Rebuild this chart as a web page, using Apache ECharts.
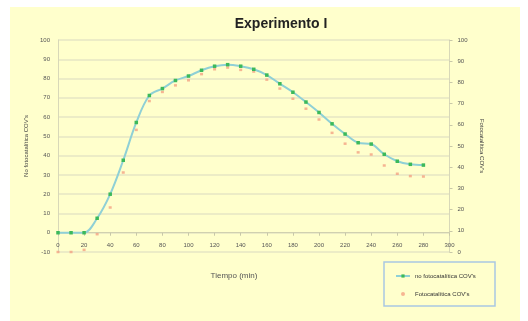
<!DOCTYPE html>
<html><head><meta charset="utf-8">
<script src="https://cdn.jsdelivr.net/npm/echarts@6/dist/echarts.min.js"></script>
<style>html,body{margin:0;padding:0;background:#fff}#c{width:528px;height:321px}</style>
</head><body><div id="c"></div>
<script>
const times = [0,10,20,30,40,50,60,70,80,90,100,110,120,130,140,150,160,170,180,190,200,210,220,230,240,250,260,270,280];
const noFotoValues = [0,0,0,7.5,20,37.6,57.2,71.2,74.8,79,81.3,84.3,86.4,87.2,86.4,84.8,81.8,77.3,72.9,67.8,62.4,56.5,51.2,46.7,46,40.7,37.1,35.5,35.1];
const fotoValues = [0,0,1,8.4,21,37.5,57.6,71.2,75.5,78.6,81,83.9,86.2,87,85.9,85.1,81.3,77.1,72.3,67.6,62.5,56.2,51.1,47,46,40.8,36.9,35.8,35.6];
const seriesNames = ["no fotocatalítica COV's", "Fotocatalítica COV's"];
const titleText = 'Experimento I';
const xName = 'Tiempo (min)';
const leftName = "No fotocatalítica COV's";
const rightName = "Fotocatalítica COV's";

const chart = echarts.init(document.getElementById('c'), null, {renderer:'canvas'});
const axisTxt = {fontSize:6, color:'#555', fontFamily:'Liberation Sans'};
const gridColor = '#e6e6c4';
chart.setOption({
  animation:false,
  backgroundColor:'#ffffff',
  graphic:[
    {type:'rect', z:-10, shape:{x:10,y:7,width:510,height:314}, style:{fill:'#ffffcc'}},
    {type:'text', x:234, y:276, style:{text:xName, fontSize:8, fill:'#555', align:'center', verticalAlign:'middle', fontFamily:'Liberation Sans'}},
    {type:'rect', shape:{x:384,y:262,width:111,height:44}, style:{fill:'#ffffcc', stroke:'#a9c8e2', lineWidth:1.5}, z:1}
  ],
  title:{text:titleText, left:276, top:12, textAlign:'center', textStyle:{fontSize:14, fontWeight:'bold', color:'#222', fontFamily:'Liberation Sans'}},
  legend:{orient:'vertical', left:390, top:268, itemGap:12, itemWidth:14, itemHeight:4, z:5,
    textStyle:{fontSize:6, color:'#333', fontFamily:'Liberation Sans'},
    data:[{name:seriesNames[0]},{name:seriesNames[1], icon:'circle', itemStyle:{color:'#f4a283'}}]},
  grid:{left:58, right:78.5, top:40, bottom:69},
  xAxis:[
    {type:'value', min:0, max:300, interval:20,
     axisLine:{onZero:true, lineStyle:{color:'#d0d0b0'}},
     axisTick:{show:true, lineStyle:{color:'#c8c8a8'}, length:3},
     axisLabel:{show:false},
     splitLine:{show:false}},
    {type:'value', min:0, max:300, interval:20, position:'bottom',
     axisLine:{show:false, onZero:false}, axisTick:{show:false},
     axisLabel:Object.assign({margin:-9.5, hideOverlap:false, showMaxLabel:true, showMinLabel:true}, axisTxt),
     splitLine:{show:false}}
  ],
  yAxis:[
    {type:'value', min:-10, max:100, interval:10, position:'left',
     name:leftName, nameLocation:'middle', nameGap:24, nameRotate:90,
     nameTextStyle:{fontSize:6, color:'#444', fontFamily:'Liberation Sans'},
     axisLine:{show:true, onZero:false, lineStyle:{color:'#d8d8b8'}}, axisTick:{show:false},
     axisLabel:Object.assign({margin:8, hideOverlap:false}, axisTxt),
     splitLine:{show:true, lineStyle:{color:gridColor, width:1.5}}},
    {type:'value', min:0, max:100, interval:10, position:'right',
     name:rightName, nameLocation:'middle', nameGap:28, nameRotate:-90,
     nameTextStyle:{fontSize:6, color:'#444', fontFamily:'Liberation Sans'},
     axisLine:{show:true, onZero:false, lineStyle:{color:'#d8d8b8'}}, axisTick:{show:true, length:3, lineStyle:{color:'#c8c8a8'}},
     axisLabel:Object.assign({margin:8, hideOverlap:false}, axisTxt),
     splitLine:{show:false}}
  ],
  series:[
    {name:seriesNames[0], type:'line', xAxisIndex:0, yAxisIndex:0, smooth:0.35,
     data:times.map((t,i)=>[t,noFotoValues[i]]),
     symbol:'rect', symbolSize:3.5,
     itemStyle:{color:'#3cb95a'},
     lineStyle:{color:'#8fd0d6', width:2}},
    {name:seriesNames[1], type:'scatter', xAxisIndex:0, yAxisIndex:1,
     data:times.map((t,i)=>[t,fotoValues[i]]),
     symbol:'rect', symbolSize:[3,2.5],
     itemStyle:{color:'#f4a283'}}
  ]
});
</script></body></html>
